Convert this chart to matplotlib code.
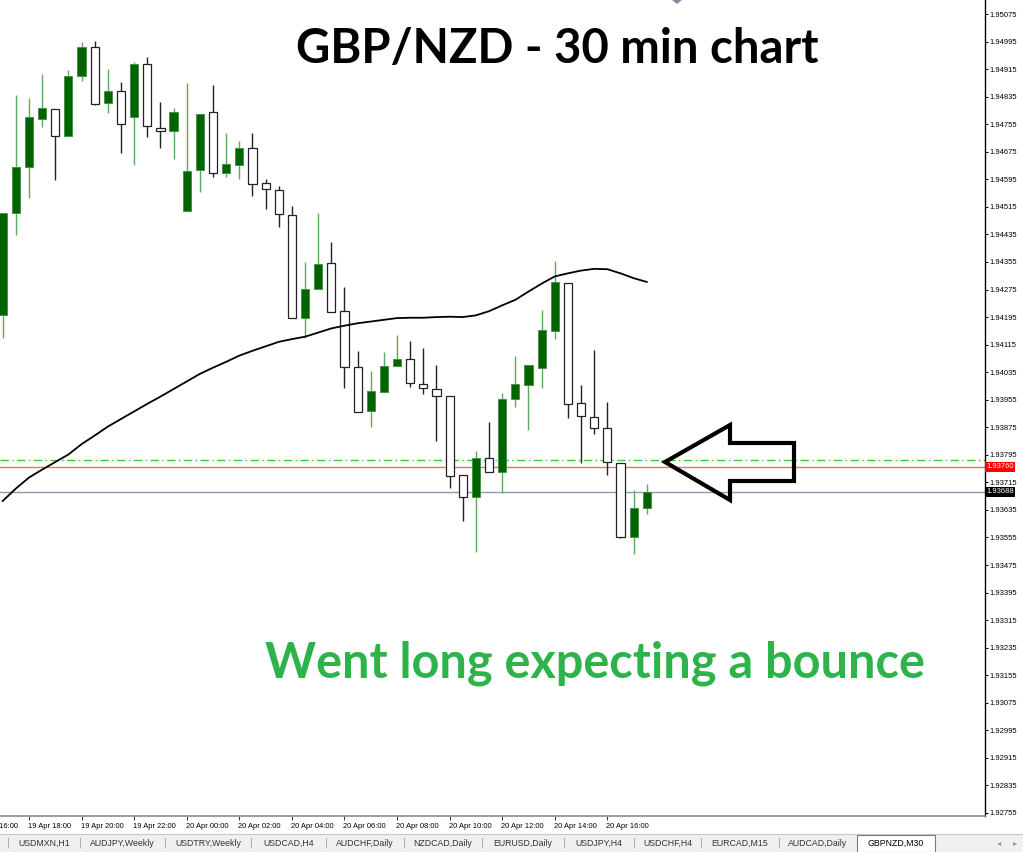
import matplotlib
matplotlib.use('Agg')
import matplotlib.pyplot as plt
import matplotlib.transforms as mtransforms
from matplotlib.patches import Polygon, Rectangle
import numpy as np

# GBPNZD M30 candles, 19 Apr 17:00 -> 20 Apr 17:30
opens = [1.94201, 1.94497, 1.94631, 1.94770, 1.94799, 1.94721, 1.94895, 1.94979, 1.94817, 1.94851,
         1.94776, 1.94930, 1.94744, 1.94735, 1.94503, 1.94622, 1.94790, 1.94613, 1.94637, 1.94686,
         1.94584, 1.94564, 1.94491, 1.94192, 1.94276, 1.94352, 1.94213, 1.94050, 1.93922, 1.93977,
         1.94053, 1.94073, 1.94001, 1.93986, 1.93966, 1.93736, 1.93673, 1.93786, 1.93745, 1.93957,
         1.93998, 1.94047, 1.94155, 1.94294, 1.93945, 1.93905, 1.93873, 1.93771, 1.93556, 1.93641]
highs = [1.94497, 1.94840, 1.94831, 1.94901, 1.94799, 1.94912, 1.94994, 1.94997, 1.94915, 1.94878,
         1.94936, 1.94950, 1.94820, 1.94802, 1.94875, 1.94785, 1.94869, 1.94729, 1.94706, 1.94729,
         1.94596, 1.94576, 1.94518, 1.94355, 1.94497, 1.94413, 1.94282, 1.94096, 1.94038, 1.94094,
         1.94143, 1.94126, 1.94105, 1.94056, 1.93966, 1.93736, 1.93806, 1.93890, 1.93974, 1.94082,
         1.94056, 1.94216, 1.94358, 1.94294, 1.93998, 1.94099, 1.93948, 1.93771, 1.93693, 1.93710]
lows = [1.94134, 1.94433, 1.94541, 1.94747, 1.94593, 1.94721, 1.94880, 1.94811, 1.94788, 1.94671,
        1.94637, 1.94718, 1.94686, 1.94654, 1.94503, 1.94558, 1.94602, 1.94602, 1.94596, 1.94547,
        1.94509, 1.94457, 1.94192, 1.94134, 1.94276, 1.94210, 1.93989, 1.93919, 1.93876, 1.93977,
        1.94053, 1.93992, 1.93972, 1.93835, 1.93699, 1.93603, 1.93513, 1.93745, 1.93684, 1.93934,
        1.93867, 1.93989, 1.94131, 1.93902, 1.93771, 1.93855, 1.93736, 1.93553, 1.93507, 1.93623]
closes = [1.94497, 1.94631, 1.94776, 1.94802, 1.94721, 1.94895, 1.94979, 1.94814, 1.94851, 1.94756,
          1.94930, 1.94750, 1.94735, 1.94790, 1.94619, 1.94785, 1.94613, 1.94639, 1.94686, 1.94581,
          1.94567, 1.94494, 1.94192, 1.94276, 1.94349, 1.94210, 1.94050, 1.93919, 1.93980, 1.94053,
          1.94073, 1.94004, 1.93989, 1.93966, 1.93733, 1.93673, 1.93786, 1.93745, 1.93957, 1.94001,
          1.94056, 1.94157, 1.94297, 1.93943, 1.93908, 1.93873, 1.93774, 1.93556, 1.93641, 1.93688]
# moving average line
ma_vals = [1.93661, 1.93697, 1.93729, 1.93752, 1.93774, 1.93796, 1.93826, 1.93851, 1.93877, 1.93899,
           1.93921, 1.93943, 1.93964, 1.93986, 1.94008, 1.94030, 1.94048, 1.94065, 1.94083, 1.94097,
           1.94110, 1.94123, 1.94131, 1.94138, 1.94150, 1.94162, 1.94170, 1.94177, 1.94182, 1.94187,
           1.94192, 1.94193, 1.94193, 1.94195, 1.94196, 1.94195, 1.94200, 1.94212, 1.94229, 1.94245,
           1.94269, 1.94292, 1.94313, 1.94322, 1.94330, 1.94335, 1.94334, 1.94322, 1.94308, 1.94297]

# horizontal levels
entry_level = 1.93780   # green dash-dot
red_level = 1.93760
bid_level = 1.93688

# x axis labels every 4 bars, first one is at bar -2
x_label_pos = list(range(-2, 47, 4))
x_labels = ['19 Apr 16:00', '19 Apr 18:00', '19 Apr 20:00', '19 Apr 22:00', '20 Apr 00:00',
            '20 Apr 02:00', '20 Apr 04:00', '20 Apr 06:00', '20 Apr 08:00', '20 Apr 10:00',
            '20 Apr 12:00', '20 Apr 14:00', '20 Apr 16:00']
y_ticks = np.round(np.arange(1.92755, 1.95076, 0.0008), 5)

tabs = ['USDMXN,H1', 'AUDJPY,Weekly', 'USDTRY,Weekly', 'USDCAD,H4', 'AUDCHF,Daily',
        'NZDCAD,Daily', 'EURUSD,Daily', 'USDJPY,H4', 'USDCHF,H4', 'EURCAD,M15', 'AUDCAD,Daily']
active_tab = 'GBPNZD,M30'

W, H = 1023, 852
fig = plt.figure(figsize=(W / 100, H / 100), dpi=100)
fig.patch.set_facecolor('white')

def fx(px):
    return px / W

def fy(py):
    return 1 - py / H

ax = fig.add_axes([0, fy(816), fx(985), 816 / H])
ax.set_facecolor('white')

idx = np.arange(len(opens))
o = np.array(opens); c = np.array(closes)
hi = np.array(highs); lo = np.array(lows)
up = c > o

# wicks
ax.vlines(idx[up], lo[up], hi[up], color='#5fa85f', lw=1, zorder=2)
ax.vlines(idx[~up], lo[~up], hi[~up], color='#222222', lw=1, zorder=2)

# bodies
body_w = 0.62
ax.bar(idx[up], (c - o)[up], bottom=o[up], width=body_w, color='#006400',
       edgecolor='#3f8f3f', linewidth=0.6, zorder=3)
ax.bar(idx[~up], np.maximum((o - c)[~up], 0.00002), bottom=c[~up], width=body_w,
       color='white', edgecolor='#222222', linewidth=0.9, zorder=3)

# moving average
ax.plot(idx, ma_vals, color='black', lw=1.3, zorder=4)

# levels
ax.axhline(entry_level, color='#33cc33', lw=1, dashes=(6, 2.5, 1, 2.5), zorder=1)
ax.axhline(red_level, color='#f07070', lw=1, zorder=1)
ax.axhline(bid_level, color='#8a9bb0', lw=1, zorder=1)

ax.set_xlim(-2.7 / 13.144, (985 - 2.7) / 13.144)
ax.set_ylim(1.927462, 1.951157)

for s in ['left', 'top']:
    ax.spines[s].set_visible(False)
ax.spines['right'].set_color('black')
ax.spines['right'].set_linewidth(1)
ax.spines['bottom'].set_color('#8c8c8c')
ax.spines['bottom'].set_linewidth(1.2)

ax.yaxis.tick_right()
ax.set_yticks(y_ticks)
ax.set_yticklabels(['%.5f' % v for v in y_ticks], fontsize=5.5, family='Liberation Sans')
ax.tick_params(axis='y', length=2.2, width=0.7, pad=1.2, colors='black')

ax.set_xticks([p for p in x_label_pos if p >= 0])
ax.set_xticklabels([])
ax.tick_params(axis='x', length=3, width=0.7, colors='#333333')
xtrans = mtransforms.blended_transform_factory(ax.transData, ax.transAxes)
for p, lab in zip(x_label_pos, x_labels):
    ax.text(p - 0.08, -11 / 816, lab, transform=xtrans, ha='left', va='center',
            fontsize=5.4, family='Liberation Sans', clip_on=False)

# price boxes on the right axis
trans = mtransforms.blended_transform_factory(ax.transAxes, ax.transData)
ax.text(1.0015, red_level, '%.5f' % red_level, transform=trans, ha='left', va='center',
        fontsize=5.5, family='Liberation Sans', color='white', clip_on=False,
        bbox=dict(boxstyle='square,pad=0.18', fc='#ff0000', ec='none'))
ax.text(1.0015, bid_level, '%.5f' % bid_level, transform=trans, ha='left', va='center',
        fontsize=5.5, family='Liberation Sans', color='white', clip_on=False,
        bbox=dict(boxstyle='square,pad=0.18', fc='black', ec='none'))

# small shift marker at top
fig.patches.append(Polygon([(fx(672), fy(0)), (fx(682), fy(0)), (fx(677), fy(4))],
                           closed=True, transform=fig.transFigure, fc='#7d8ea6', ec='none'))

# tab bar
fig.patches.append(Rectangle((0, 0), 1, fy(834), transform=fig.transFigure,
                             fc='#f0f0f0', ec='none', zorder=0))
fig.add_artist(plt.Line2D([0, 1], [fy(834), fy(834)], transform=fig.transFigure,
                          color='#c8c8c8', lw=0.8))
seps = [8, 80, 165, 251, 326, 404, 482, 564, 634, 701, 779]
for i, t in enumerate(tabs):
    left = seps[i]
    right = seps[i + 1] if i + 1 < len(seps) else 857
    fig.text(fx(left), fy(843), '|', ha='center', va='center', fontsize=7, color='#9a9a9a')
    fig.text(fx((left + right) / 2), fy(843), t, ha='center', va='center', fontsize=6.3,
             family='Liberation Sans', color='#333333')
fig.patches.append(Rectangle((fx(857), 0), fx(935) - fx(857), fy(835), transform=fig.transFigure,
                             fc='white', ec='#7a7a7a', lw=0.8, zorder=2))
fig.text(fx(896), fy(843), active_tab, ha='center', va='center', fontsize=6.3,
         family='Liberation Sans', color='black', zorder=3)
fig.text(fx(999), fy(843), '\u25c2', ha='center', va='center', fontsize=6, color='#9a9a9a')
fig.text(fx(1015), fy(843), '\u25b8', ha='center', va='center', fontsize=6, color='#9a9a9a')

# annotation arrow pointing at the level
arrow_px = [(665, 462), (730, 425), (730, 443), (794, 443), (794, 481), (730, 481), (730, 500)]
fig.patches.append(Polygon([(fx(x), fy(y)) for x, y in arrow_px], closed=True,
                           transform=fig.transFigure, fc='none', ec='black', lw=3,
                           joinstyle='miter', zorder=5))

# texts
fig.text(fx(557), fy(49), 'GBP/NZD - 30 min chart', ha='center', va='center',
         fontsize=34, fontweight='bold', family='Lato', color='black')
fig.text(fx(595), fy(663), 'Went long expecting a bounce', ha='center', va='center',
         fontsize=35, fontweight='bold', family='Lato', color='#2db34a')

fig.savefig('out.png', dpi=100)
